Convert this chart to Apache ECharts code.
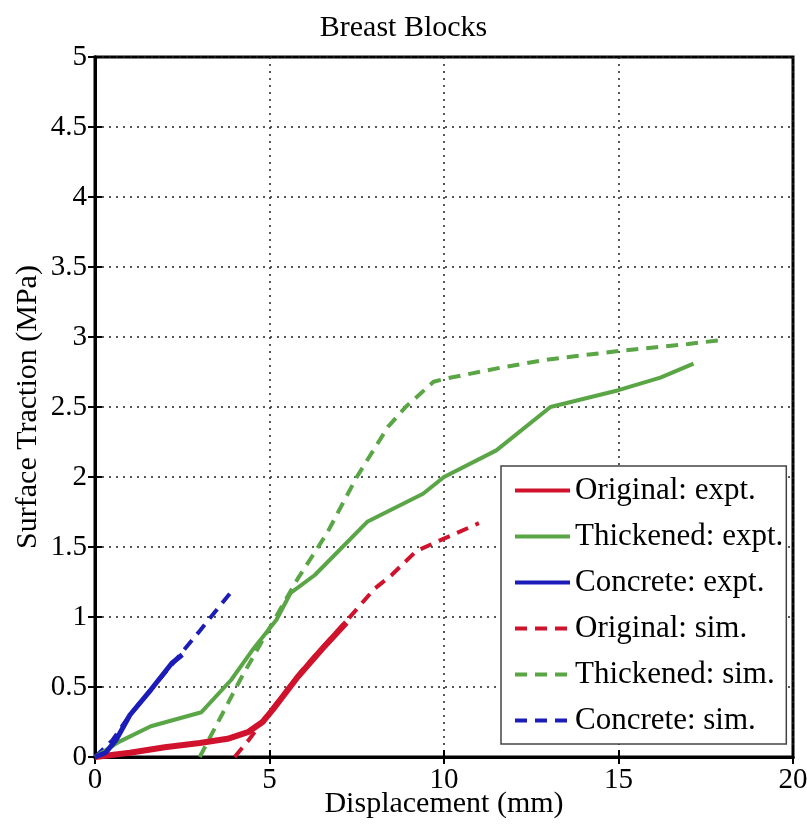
<!DOCTYPE html>
<html>
<head>
<meta charset="utf-8">
<script src="https://cdn.jsdelivr.net/npm/echarts@6/dist/echarts.min.js"></script>
<style>html,body{margin:0;padding:0;background:#fff}#c{width:807px;height:826px}</style>
</head>
<body>
<div id="c"></div>
<script>
var xTicks = [0, 5, 10, 15, 20];
var yTicks = [0, 0.5, 1, 1.5, 2, 2.5, 3, 3.5, 4, 4.5, 5];
var seriesNames = ['Original: expt.', 'Thickened: expt.', 'Concrete: expt.', 'Original: sim.', 'Thickened: sim.', 'Concrete: sim.'];

var originalExpt = [[0,0],[1,0.03],[2,0.07],[3,0.1],[3.8,0.13],[4.4,0.18],[4.8,0.25],[5.1,0.34],[5.8,0.57],[6.5,0.77],[7.2,0.96]];
var thickenedExpt = [[0,0],[0.7,0.11],[1.6,0.22],[3.05,0.32],[3.9,0.55],[4.5,0.76],[5.2,0.98],[5.6,1.17],[6.3,1.3],[7.8,1.68],[9.4,1.88],[10,2.0],[11.5,2.19],[13.05,2.5],[15,2.62],[16.2,2.71],[17.15,2.81]];
var concreteExpt = [[0,0],[0.3,0.03],[0.6,0.12],[1.0,0.3],[1.6,0.48],[2.2,0.67],[2.5,0.73]];
var originalSim = [[4,0],[4.4,0.12],[5,0.32],[6,0.64],[7.2,0.97],[8,1.2],[8.5,1.3],[9.2,1.47],[10,1.56],[11,1.67]];
var thickenedSim = [[3,0],[4.2,0.57],[5.8,1.27],[6.65,1.6],[7.5,2.0],[8.4,2.36],[8.9,2.5],[9.7,2.68],[10,2.7],[11.6,2.78],[13,2.84],[15,2.9],[17,2.95],[18,2.98]];
var concreteSim = [[0,0],[0.5,0.12],[1,0.3],[2,0.6],[3,0.9],[4,1.21]];

var RED = '#d0122c', GREEN = '#5aa646', BLUE = '#1c1cb8';
var FONT = 'Liberation Serif';

var chart = echarts.init(document.getElementById('c'), null, {renderer: 'canvas'});

function mk(name, data, color, dashed, width, z) {
  return {
    name: name, type: 'line', data: data, symbol: 'none', z: z,
    lineStyle: {color: color, width: width, type: dashed ? [12, 8] : 'solid', cap: 'butt'},
    itemStyle: {color: color}, animation: false
  };
}

var splitStyle = {show: true, lineStyle: {color: '#222', width: 1.5, type: [2, 5]}};

chart.setOption({
  backgroundColor: '#fff',
  animation: false,
  title: {
    text: 'Breast Blocks', left: 'center', top: 8,
    textStyle: {fontFamily: FONT, fontSize: 30, fontWeight: 'normal', color: '#000'}
  },
  grid: {left: 95, right: 14, top: 57, bottom: 69, show: true, borderColor: '#000', borderWidth: 3,
    backgroundColor: 'transparent', outerBoundsMode: 'none', containLabel: false},
  legend: {
    orient: 'vertical', left: 501, top: 466,
    data: seriesNames,
    itemWidth: 55, itemHeight: 4, itemGap: 15,
    padding: [9, 3, 8, 12],
    backgroundColor: '#fff', borderColor: '#444', borderWidth: 1.5,
    itemStyle: {opacity: 0},
    lineStyle: {width: 4},
    textStyle: {fontFamily: FONT, fontSize: 31, lineHeight: 31, color: '#000'}
  },
  xAxis: [{
    type: 'value', min: 0, max: 20, interval: 5,
    name: 'Displacement (mm)', nameLocation: 'middle', nameGap: 32, nameMoveOverlap: false,
    nameTextStyle: {fontFamily: FONT, fontSize: 30, color: '#000'},
    axisLine: {show: true, lineStyle: {color: '#000', width: 3}},
    axisTick: {show: true, inside: true, length: 7, lineStyle: {color: '#000', width: 2}},
    axisLabel: {fontFamily: FONT, fontSize: 29, color: '#000', margin: 9},
    splitLine: splitStyle
  }, {
    type: 'value', min: 0, max: 20, interval: 5, position: 'top',
    axisLine: {show: true, lineStyle: {color: '#000', width: 3}},
    axisTick: {show: true, inside: true, length: 7, lineStyle: {color: '#000', width: 2}},
    axisLabel: {show: false}, splitLine: {show: false}
  }],
  yAxis: [{
    type: 'value', min: 0, max: 5, interval: 0.5,
    name: 'Surface Traction (MPa)', nameLocation: 'middle', nameGap: 52, nameMoveOverlap: false,
    nameTextStyle: {fontFamily: FONT, fontSize: 30, color: '#000'},
    axisLine: {show: true, lineStyle: {color: '#000', width: 3}},
    axisTick: {show: true, inside: true, length: 7, lineStyle: {color: '#000', width: 2}},
    axisLabel: {fontFamily: FONT, fontSize: 29, color: '#000', margin: 8,
      formatter: function (v) { return String(v); }},
    splitLine: splitStyle
  }, {
    type: 'value', min: 0, max: 5, interval: 0.5, position: 'right',
    axisLine: {show: true, lineStyle: {color: '#000', width: 3}},
    axisTick: {show: true, inside: true, length: 7, lineStyle: {color: '#000', width: 2}},
    axisLabel: {show: false}, splitLine: {show: false}
  }],
  series: [
    mk(seriesNames[0], originalExpt, RED, false, 6, 4),
    mk(seriesNames[1], thickenedExpt, GREEN, false, 4, 4),
    mk(seriesNames[2], concreteExpt, BLUE, false, 5, 4),
    mk(seriesNames[3], originalSim, RED, true, 4, 3),
    mk(seriesNames[4], thickenedSim, GREEN, true, 4, 3),
    mk(seriesNames[5], concreteSim, BLUE, true, 4, 3)
  ]
});
</script>
</body>
</html>
